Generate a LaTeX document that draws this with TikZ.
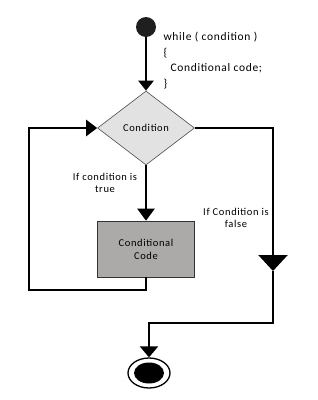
\documentclass[tikz,border=0pt]{standalone}
\usepackage{fontspec}
\setmainfont{Carlito}[LetterSpace=6]
\usetikzlibrary{arrows.meta}
\usetikzlibrary{shapes,shapes.geometric}
\definecolor{decgray}{HTML}{E2E2E2}
\definecolor{codegray}{HTML}{ACA9A9}
\tikzstyle{ndstart} = [shape=circle, fill=black!88, minimum size=20pt, inner sep=0pt]
\tikzstyle{nddec} = [draw=black!70, semithick, shape=diamond, fill=decgray, minimum width=97pt, minimum height=74pt, inner sep=0pt, font=\fontsize{10.5}{12}\selectfont]
\tikzstyle{ndcode} = [draw=black!80, semithick, shape=rectangle, fill=codegray, minimum width=97pt, minimum height=56pt, align=center, font=\fontsize{10.5}{13}\selectfont]
\tikzstyle{ndstop} = [draw, line width=1.3pt, shape=ellipse, minimum width=42pt, minimum height=30pt, inner sep=0pt]
\tikzstyle{lbl} = [align=center, font=\fontsize{10.5}{12.5}\selectfont]
\tikzstyle{flow} = [style={line width=2.3pt,draw}]
\tikzstyle{tuh} = [style={flow,-{Triangle[width=15pt,length=10pt]}}]
\tikzstyle{tuhbig} = [style={flow,-{Triangle[width=29pt,length=16pt]}}]

\begin{document}
\begin{tikzpicture}[x=1pt,y=-1pt]
        \useasboundingbox (0,0) rectangle (318,400);
        \node[ndstart] (start) at (146,27) {};
        \node[anchor=north west, align=left, font=\fontsize{11.5}{15.5}\selectfont] (loop) at (160,29)
          {while ( condition )\\{\char`\{}\\\hspace{7pt}Conditional code;\\{\char`\}}};
        \node[nddec] (cond) at (146,128) {Condition};
        \node[ndcode] (code) at (146,249) {Conditional\\Code};
        \node[ndstop] (stop) at (149,373) {};
        \node[shape=ellipse, fill=black, minimum width=30pt, minimum height=21pt, inner sep=0pt] (dot) at (stop) {};
        \node[lbl] (truelbl) at (105,183) {If condition is\\true};
        \node[lbl] (falselbl) at (236,218) {If Condition is\\false};
        \coordinate (lb) at (29,290);
        \coordinate (rt) at (273,271);
        \coordinate (rb) at (149,323);
        \draw[tuh] (start) -- (cond.north);
        \draw[tuh, -{Triangle[width=17pt,length=12pt]}] (cond.south) -- (code.north);
        \draw[tuh, -{Triangle[width=16pt,length=11pt]}] (code.south) |- (lb) |- (cond.west);
        \draw[tuhbig] (cond.east) -| (rt);
        \draw[tuh, -{Triangle[width=18pt,length=11pt]}] (rt) |- (rb) -- (stop.north);
      \end{tikzpicture}
\end{document}
